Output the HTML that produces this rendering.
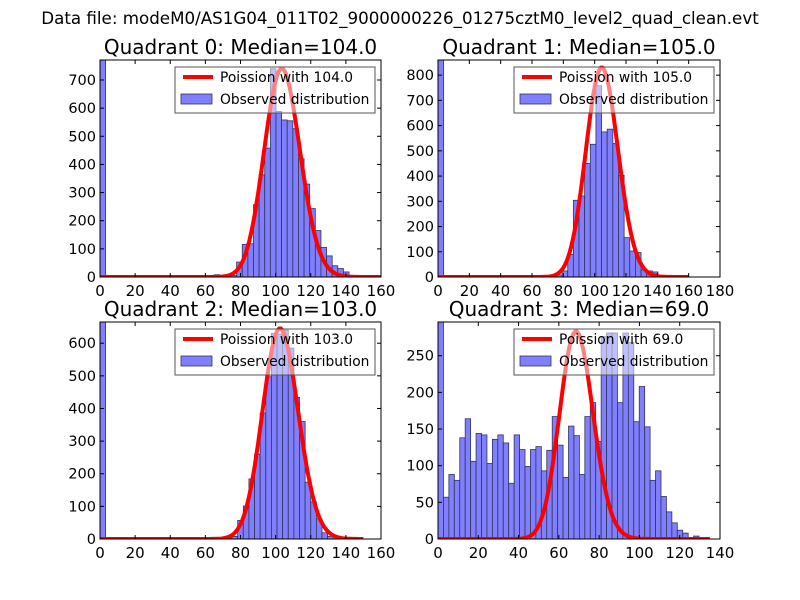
<!DOCTYPE html>
<html><head><meta charset="utf-8"><style>
body{margin:0;background:#fff;}
svg{display:block;font-family:"DejaVu Sans","Liberation Sans",sans-serif;}
</style></head><body>
<svg id="fig" width="800" height="600" viewBox="0 0 800 600">
<rect width="800" height="600" fill="#fff"/>
<text x="400" y="24" font-size="16.7" text-anchor="middle">Data file: modeM0/AS1G04_011T02_9000000226_01275cztM0_level2_quad_clean.evt</text>
</svg>
<script>
// ---- data ----
const q0Counts=[1000,0,0,0,0,0,0,0,0,0,0,0,0,0,0,0,3,2,3,2,8,5,3,5,53,116,118,257,363,458,740,588,558,555,527,420,330,243,165,105,75,40,30,18,5,0,0,0,0,0];
const q1Counts=[1000,0,0,0,0,0,0,0,0,0,0,0,0,0,5,2,0,0,3,4,5,8,24,90,304,321,450,526,758,575,586,529,403,156,103,97,28,24,20,5,0,0,0,0,0,0,0,0,0,0];
const q2Counts=[1000,0,0,0,0,0,0,0,0,0,0,0,0,0,0,0,0,3,4,5,5,0,3,8,57,101,184,260,386,497,630,628,640,585,434,360,174,114,62,19,8,0,0,0,0,0,0,0,0,0];
const q3Counts=[1000,57,88,80,138,164,106,144,142,103,136,142,131,76,142,122,99,122,126,93,121,167,128,84,154,141,88,167,186,133,276,281,281,186,281,268,160,208,153,80,93,58,37,22,12,8,0,4,0,0];
const binWidths=[3.2,3.6,3.2,2.7];
const binOffsets=[1.0,0,1.6,0];
const medians=[104.0,105.0,103.0,69.0];
const curvePeaks=[740,830,645,283];
const curveEnds=[160,160,150,135];
const yMaxes=[771,860,665,296];
const xMaxes=[160,180,160,140];
const xTickStep=[20,20,20,20];
const yTickStep=[100,100,100,50];
const titles=["Quadrant 0: Median=104.0","Quadrant 1: Median=105.0","Quadrant 2: Median=103.0","Quadrant 3: Median=69.0"];
const legendLine=["Poission with 104.0","Poission with 105.0","Poission with 103.0","Poission with 69.0"];
const allCounts=[q0Counts,q1Counts,q2Counts,q3Counts];
// ---- layout ----
const boxes=[{l:100,r:381,t:60,b:277},{l:438,r:720,t:60,b:277},{l:100,r:381,t:322,b:539},{l:438,r:720,t:322,b:539}];
const NS="http://www.w3.org/2000/svg";
const svg=document.getElementById('fig');
function mk(tag,attrs,parent){const e=document.createElementNS(NS,tag);for(const k in attrs)e.setAttribute(k,attrs[k]);(parent||svg).appendChild(e);return e;}
function logFact(n){let s=0;for(let i=2;i<=n;i++)s+=Math.log(i);return s;}
function pois(k,l){return Math.exp(k*Math.log(l)-l-logFact(k));}
for(let p=0;p<4;p++){
  const B=boxes[p],counts=allCounts[p],w=binWidths[p];
  const X=v=>B.l+(v/xMaxes[p])*(B.r-B.l);
  const Y=v=>B.b-(v/yMaxes[p])*(B.b-B.t);
  const g=mk('g',{});
  
  
  const cp=mk('clipPath',{id:'clip'+p},g);
  mk('rect',{x:B.l,y:B.t,width:B.r-B.l,height:B.b-B.t},cp);
  const plot=mk('g',{'clip-path':'url(#clip'+p+')'},g);
  counts.forEach((c,i)=>{
    if(c<=0)return;
    const off=i>0?binOffsets[p]:0;
    const r=mk('rect',{x:X(i*w+off),y:Y(c),width:X((i+1)*w)-X(i*w),height:B.b-Y(c),fill:'#7f7fff',stroke:'#33335a','stroke-width':0.8},plot);
    
    
  });
  const lam=medians[p],scale=curvePeaks[p]/pois(Math.round(lam),lam);
  let d='';
  for(let k=0;k<=curveEnds[p];k++){d+=(k?'L':'M')+X(k).toFixed(1)+','+Y(pois(k,lam)*scale).toFixed(1);}
  const pl=mk('path',{d:d,fill:'none',stroke:'#ff0000','stroke-width':4,'stroke-linejoin':'round'},plot);
  
  
  // legend
  const lg=mk('g',{},g);
  
  
  const lx=B.r-206,ly=B.t+7;
  mk('rect',{x:lx,y:ly,width:200,height:46,fill:'#fff','fill-opacity':0.5,stroke:'#555','stroke-width':1},lg);
  mk('line',{x1:lx+8,x2:lx+38,y1:ly+10,y2:ly+10,stroke:'#ff0000','stroke-width':4},lg);
  const t1=mk('text',{x:lx+45,y:ly+15,'font-size':13.8},lg);t1.textContent=legendLine[p];
  
  
  mk('rect',{x:lx+6,y:ly+27,width:31,height:10,fill:'#7f7fff',stroke:'#33335a','stroke-width':0.8},lg);
  const t2=mk('text',{x:lx+45,y:ly+37,'font-size':13.8},lg);t2.textContent='Observed distribution';
  
  
  // frame
  mk('rect',{x:B.l,y:B.t,width:B.r-B.l,height:B.b-B.t,fill:'none',stroke:'#000','stroke-width':1},g);
  // ticks
  for(let v=0;v<=xMaxes[p]+0.01;v+=xTickStep[p]){
    const x=X(v);
    mk('line',{x1:x,x2:x,y1:B.b,y2:B.b-4,stroke:'#000'},g);
    mk('line',{x1:x,x2:x,y1:B.t,y2:B.t+4,stroke:'#000'},g);
    const t=mk('text',{x:x,y:B.b+19,'font-size':15,'text-anchor':'middle'},g);t.textContent=v;
    
    
  }
  for(let v=0;v<=yMaxes[p];v+=yTickStep[p]){
    const y=Y(v);
    mk('line',{x1:B.l,x2:B.l+4,y1:y,y2:y,stroke:'#000'},g);
    mk('line',{x1:B.r,x2:B.r-4,y1:y,y2:y,stroke:'#000'},g);
    const t=mk('text',{x:B.l-4,y:y+5,'font-size':14.5,'text-anchor':'end'},g);t.textContent=v;
    
    
  }
  const tt=mk('text',{x:(B.l+B.r)/2,y:B.t-6,'font-size':20,'text-anchor':'middle'},g);tt.textContent=titles[p];
  
  
}
</script>
</body></html>
